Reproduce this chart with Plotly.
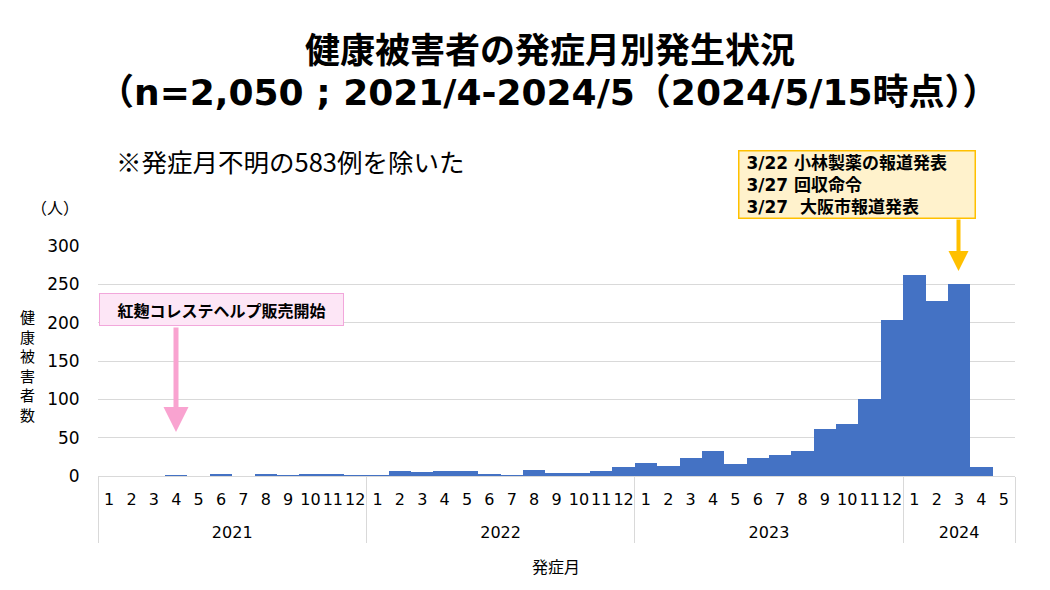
import plotly.graph_objects as go

# 発症月別の健康被害者数（人）
years = ["2021", "2022", "2023", "2024"]
month_labels = ["1", "2", "3", "4", "5", "6", "7", "8", "9", "10", "11", "12"]
cases_2021 = [0, 0, 0, 1, 0, 2, 0, 3, 1, 2, 2, 1]
cases_2022 = [1, 6, 5, 6, 7, 3, 1, 8, 4, 4, 7, 12]
cases_2023 = [17, 13, 23, 32, 16, 23, 28, 32, 61, 68, 101, 204]
cases_2024 = [262, 228, 250, 12, 0]

by_year = [cases_2021, cases_2022, cases_2023, cases_2024]
x_year, x_month, y_val = [], [], []
for yr, vals in zip(years, by_year):
    for m, v in zip(month_labels, vals):
        # leading blank line pushes the year row further below the month row
        x_year.append("<br>" + yr)
        x_month.append(m)
        y_val.append(v)

JP = "Noto Sans CJK JP"
NUM = "DejaVu Sans"
MIX = "DejaVu Sans, Noto Sans CJK JP"

# page has an 8px body margin, figure sits at (8, 8)
PAD = 8
W, H = 1050 - 2 * PAD, 590 - 2 * PAD
# plot area in page pixels (used only to place the text boxes)
L, R, T, B = 98, 1015, 246, 476
def px(x):
    return (x - L) / (R - L)
def py(y):
    return (B - y) / (B - T)

fig = go.Figure()
fig.add_trace(go.Bar(
    x=[x_year, x_month], y=y_val,
    marker=dict(color="#4472C4", line=dict(width=0)),
    hoverinfo="y",
))

ann = []
# title
ann.append(dict(text="<b>健康被害者の発症月別発生状況</b>", x=px(550), xref="paper", xanchor="center",
                y=py(47), yref="paper", yanchor="middle", showarrow=False,
                font=dict(family=JP, size=35, color="#000000")))
ann.append(dict(text="<b>（n=2,050 ; 2021/4-2024/5（2024/5/15時点））</b>", x=px(548), xref="paper",
                xanchor="center", y=py(92), yref="paper", yanchor="middle", showarrow=False,
                font=dict(family=MIX, size=36, color="#000000")))
ann.append(dict(text="※発症月不明の583例を除いた", x=px(114), xref="paper", xanchor="left",
                y=py(160), yref="paper", yanchor="middle", showarrow=False,
                font=dict(family=JP, size=25.5, color="#000000")))
ann.append(dict(text="（人）", x=px(29), xref="paper", xanchor="left",
                y=py(207), yref="paper", yanchor="middle", showarrow=False,
                font=dict(family=JP, size=16, color="#000000")))
ann.append(dict(text="<br>".join("健康被害者数"), x=px(27), xref="paper", xanchor="center",
                y=py(365), yref="paper", yanchor="middle", showarrow=False,
                font=dict(family=JP, size=15, color="#000000")))
ann.append(dict(text="発症月", x=px(556), xref="paper", xanchor="center",
                y=py(566), yref="paper", yanchor="middle", showarrow=False,
                font=dict(family=JP, size=16, color="#000000")))

# pink box + arrow
ann.append(dict(text="<b>紅麹コレステヘルプ販売開始</b>", x=px(221.5), xref="paper", xanchor="center",
                y=py(309), yref="paper", yanchor="middle", showarrow=False,
                width=239, height=27, bgcolor="#FDE6F6", bordercolor="#F2A7DB",
                borderwidth=1, borderpad=2,
                font=dict(family=JP, size=16, color="#000000")))
ann.append(dict(text="", x=px(176), xref="paper", y=py(432), yref="paper",
                ax=0, ay=-(432 - 326), axref="pixel", ayref="pixel",
                showarrow=True, arrowhead=2, arrowsize=1.0, arrowwidth=5,
                arrowcolor="#F9A3D0", standoff=0, startstandoff=0))

# yellow box + arrow
ann.append(dict(text="<b>\u00a03/22 小林製薬の報道発表<br>\u00a03/27 回収命令<br>\u00a03/27  大阪市報道発表</b>",
                x=px(857), xref="paper", xanchor="center",
                y=py(184.5), yref="paper", yanchor="middle", showarrow=False,
                width=233, align="left", bgcolor="#FFF2CC", bordercolor="#FFC000",
                borderwidth=1.5, borderpad=1,
                font=dict(family=MIX, size=17, color="#000000")))
ann.append(dict(text="", x=px(958.5), xref="paper", y=py(271), yref="paper",
                ax=0, ay=-(271 - 218), axref="pixel", ayref="pixel",
                showarrow=True, arrowhead=2, arrowsize=1.0, arrowwidth=4,
                arrowcolor="#FFC000", standoff=0, startstandoff=0))

fig.update_layout(
    width=W, height=H,
    margin=dict(l=L - PAD, r=W + PAD - R, t=T - PAD, b=H + PAD - B),
    paper_bgcolor="white", plot_bgcolor="white",
    bargap=0, showlegend=False,
    annotations=ann,
    font=dict(family=NUM, color="#000000"),
)
fig.update_xaxes(
    type="multicategory",
    showline=True, linecolor="#D9D9D9", linewidth=1,
    showgrid=False, ticks="", tickangle=0, ticklabelstandoff=9,
    tickfont=dict(family=NUM, size=16, color="#000000"),
    showdividers=True, dividercolor="#D9D9D9", dividerwidth=1,
)
fig.update_yaxes(
    range=[0, 300], dtick=50, tick0=0,
    showgrid=True, gridcolor="#D9D9D9", gridwidth=1,
    zeroline=False, showline=False,
    ticks="outside", ticklen=14, tickcolor="rgba(0,0,0,0)",
    tickfont=dict(family=NUM, size=17, color="#000000"),
)

fig.write_html("out.html")
